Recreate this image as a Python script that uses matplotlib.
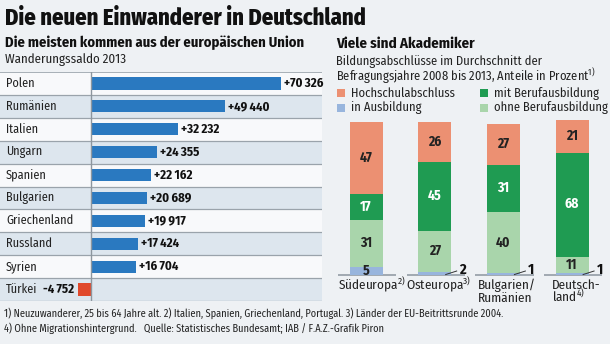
import matplotlib
matplotlib.use("Agg")
import matplotlib.pyplot as plt
import numpy as np

# ---- data ----
countries = ["Polen", "Rumänien", "Italien", "Ungarn", "Spanien", "Bulgarien",
             "Griechenland", "Russland", "Syrien", "Türkei"]
saldo = [70326, 49440, 32232, 24355, 22162, 20689, 19917, 17424, 16704, -4752]

regions = ["Südeuropa$^{2)}$", "Osteuropa$^{3)}$", "Bulgarien/\nRumänien", "Deutsch-\nland$^{4)}$"]
hochschul = [47, 26, 27, 21]
mit_beruf = [17, 45, 31, 68]
ohne_beruf = [31, 27, 40, 11]
in_ausb = [5, 2, 1, 1]

BG = "#eef1f4"
BLUE = "#2a79c0"
RED = "#e0492c"
SALMON = "#ec9072"
DGREEN = "#1f9b52"
LGREEN = "#a9d5ab"
LBLUE = "#98b5dd"
NARROW = ["Fira Sans Condensed", "DejaVu Sans"]
plt.rcParams["font.family"] = NARROW
plt.rcParams["font.stretch"] = "condensed"
plt.rcParams["mathtext.fontset"] = "custom"
plt.rcParams["mathtext.rm"] = "Fira Sans Condensed"
W, H = 610, 344

fig = plt.figure(figsize=(6.1, 3.44), dpi=100)
fig.patch.set_facecolor(BG)


def fax(x0, y0, x1, y1):
    # axes placed in pixel coords (top-left origin)
    return fig.add_axes([x0 / W, 1 - y1 / H, (x1 - x0) / W, (y1 - y0) / H])


# text layer in pixel coordinates
t = fax(0, 0, W, H)
t.set_xlim(0, W)
t.set_ylim(H, 0)
t.axis("off")
t.patch.set_alpha(0)

t.text(5, 18, "Die neuen Einwanderer in Deutschland", fontweight="heavy",
       fontsize=16.2, va="center", color="#111")
t.text(5, 43, "Die meisten kommen aus der europäischen Union",
       fontweight="bold", fontsize=10.5, va="center", color="#111")
t.text(5, 60, "Wanderungssaldo 2013", fontsize=9.3, va="center", color="#222")

t.text(336, 44, "Viele sind Akademiker", fontweight="bold",
       fontsize=10.8, va="center", color="#111")
t.text(336, 61, "Bildungsabschlüsse im Durchschnitt der",
       fontsize=9, va="center", color="#222")
t.text(336, 76, "Befragungsjahre 2008 bis 2013, Anteile in Prozent$^{1)}$",
       fontsize=9, va="center", color="#222")

legend = [("Hochschulabschluss", SALMON, 337, 93), ("mit Berufausbildung", DGREEN, 480, 93),
          ("in Ausbildung", LBLUE, 337, 108), ("ohne Berufausbildung", LGREEN, 480, 108)]
for lab, col, lx, ly in legend:
    t.add_patch(plt.Rectangle((lx, ly - 4), 8, 8, color=col, lw=0))
    t.text(lx + 14, ly, lab, fontsize=9, va="center", color="#222")

t.text(4, 313, "1) Neuzuwanderer, 25 bis 64 Jahre alt. 2) Italien, Spanien, Griechenland, Portugal. "
       "3) Länder der EU-Beitrittsrunde 2004.", fontsize=7.45, va="center", color="#222")
t.text(4, 329, "4) Ohne Migrationshintergrund.   Quelle: Statistisches Bundesamt; IAB / F.A.Z.-Grafik Piron",
       fontsize=7.45, va="center", color="#222")

# ---- left: horizontal bars ----
px = 190 / 70326.0   # pixels per person
zero_px = 91
x_left, x_right = 0, 322
ax = fax(x_left, 72, x_right, 301)
ax.set_xlim((x_left - zero_px) / px, (x_right - zero_px) / px)
n = len(countries)
ax.set_ylim(n - 0.5, -0.5)
ax.axis("off")
for i in range(n):
    ax.axhspan(i - 0.5, i + 0.5, color="#f8f9fb" if i % 2 == 0 else "#dde6ee", lw=0, zorder=0)
    ax.axhline(i + 0.5, color="#9aa3ab", lw=0.9, zorder=1)
ax.axhline(-0.5, color="#9aa3ab", lw=1.2, zorder=1)
ax.axvline(0, color="#8d969e", lw=1.0, zorder=3)

cols = [BLUE if v > 0 else RED for v in saldo]
ax.barh(range(n), saldo, height=0.53, color=cols, edgecolor="none", zorder=2)
lab_x = ax.get_xlim()[0] + 6 / px
for i, (c, v) in enumerate(zip(countries, saldo)):
    ax.text(lab_x, i, c, fontsize=8.8, va="center", color="#222")
    s = f"{abs(v):,}".replace(",", "\u2009")
    if v > 0:
        ax.text(v + 3 / px, i, "+" + s, fontweight="bold", fontsize=9.2,
                va="center", ha="left", color="#111")
    else:
        ax.text(v - 4 / px, i, "-" + s, fontweight="bold", fontsize=9.2,
                va="center", ha="right", color="#111")

# ---- right: stacked columns ----
step = 68.7
c0 = 366
py = 153 / 100.0
bx = fax(330, 118, 610, 300)
bx.set_xlim((330 - c0) / step, (610 - c0) / step)
bx.set_ylim(-(300 - 275) / py, (275 - 118) / py)
bx.axis("off")
bx.patch.set_alpha(0)

pos = np.arange(len(regions))
bw = 33 / step
layers = [(in_ausb, LBLUE, "#222"), (ohne_beruf, LGREEN, "#222"),
          (mit_beruf, DGREEN, "white"), (hochschul, SALMON, "#222")]
bottom = np.zeros(len(regions))
for vals, col, tcol in layers:
    vals = np.array(vals, dtype=float)
    bx.bar(pos, vals, bw, bottom=bottom, color=col, edgecolor="none", zorder=2)
    for j, v in enumerate(vals):
        if v >= 5:
            bx.text(pos[j], bottom[j] + v / 2 + 0.3, f"{v:.0f}", ha="center", va="center",
                    fontweight="bold", fontsize=9.8, color=tcol, zorder=3)
        else:
            bx.plot([pos[j] + 0.16, pos[j] + 0.32], [0.3, 2.6], color="#333", lw=0.7, zorder=3)
            bx.text(pos[j] + 0.36, 3.5, f"{v:.0f}", ha="left", va="center",
                    fontweight="bold", fontsize=10.5, color="#111", zorder=3)
    bottom += vals

lab_off = [-0.41, -0.42, -0.37, -0.29]
for j in pos:
    bx.plot([j - 0.41, j + 0.44], [0, 0], color="#9aa3ab", lw=1.3, zorder=1,
            solid_capstyle="butt")
    for k, line in enumerate(regions[j].split("\n")):
        bx.text(j + lab_off[j], -9.3 - k * 8.4, line, ha="left", va="baseline",
                fontsize=9.5, color="#222", clip_on=False)

fig.savefig("out.png", dpi=100, facecolor=fig.get_facecolor())
